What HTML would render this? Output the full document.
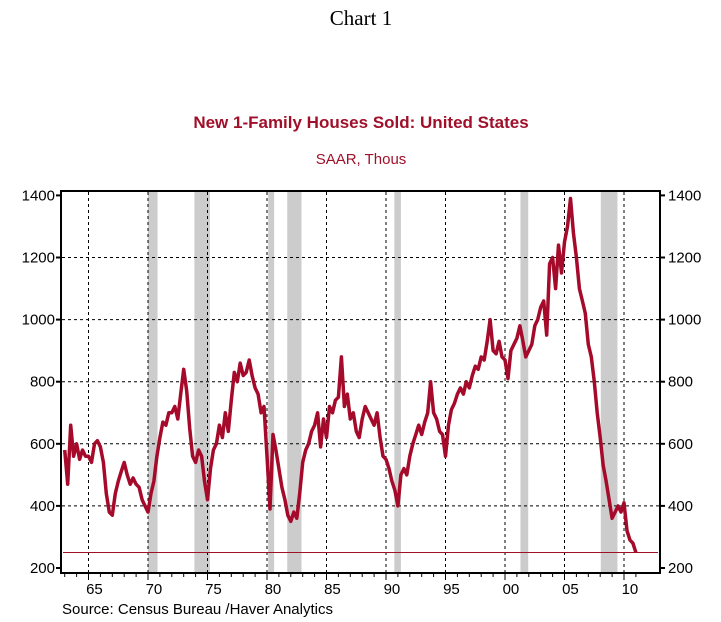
<!DOCTYPE html>
<html><head><meta charset="utf-8"><style>
html,body{margin:0;padding:0;background:#fff;}
svg{display:block;font-family:"Liberation Sans",Arial,sans-serif;}
</style></head><body>
<svg id="chart" width="721" height="622" viewBox="0 0 721 622" xmlns="http://www.w3.org/2000/svg">
<text x="361" y="25" text-anchor="middle" font-family="Liberation Serif, serif" font-size="21">Chart 1</text>
<text x="361" y="128" text-anchor="middle" font-size="17" font-weight="bold" fill="#a0102a">New 1-Family Houses Sold: United States</text>
<text x="361" y="164" text-anchor="middle" font-size="15" fill="#a0102a">SAAR, Thous</text>
<g id="shade"></g>
<g id="grid"></g>
<g id="axes"></g>
<g id="series"></g>
<rect x="61" y="191" width="599" height="382" fill="none" stroke="#000" stroke-width="2"/>
<text x="62" y="614" font-size="15">Source:  Census Bureau /Haver Analytics</text>
</svg>
<script>
const startYear = 1963;
const stepYears = 0.25;
const sales = [
580,470,660,560, 600,550,580,560, 560,540,600,610, 590,540,440,380,
370,440,480,510, 540,500,470,490, 470,460,420,400, 380,440,480,560,
620,670,660,700, 700,720,680,760, 840,770,650,560, 540,580,560,480,
420,520,580,600, 660,620,700,640, 740,830,800,860, 820,830,870,820,
780,760,700,720, 560,390,630,580, 520,460,420,370, 350,380,360,440,
540,580,600,640, 660,700,590,680, 620,720,700,740, 750,880,720,760,
680,700,640,620, 680,720,700,680, 660,700,620,560, 550,520,480,450,
400,500,520,500, 560,600,630,660, 630,670,700,800, 700,680,640,630,
560,660,710,730, 760,780,760,800, 780,820,850,840, 880,870,930,1000,
900,890,930,880, 870,810,900,920, 940,980,930,880, 900,920,980,1000,
1040,1060,950,1180, 1200,1100,1240,1150, 1250,1300,1390,1280, 1200,1100,1060,1020,
920,880,800,700, 620,530,480,420, 360,380,400,380, 410,320,290,280, 250
];
const recessions = [[1970.0,1970.8],[1973.9,1975.2],[1980.1,1980.6],[1981.7,1982.9],[1990.7,1991.25],[2001.3,2001.95],[2008.05,2009.45]];
const yTicks = [200,400,600,800,1000,1200,1400];
const xLabels = ["65","70","75","80","85","90","95","00","05","10"];
const xLabelYears = [1965,1970,1975,1980,1985,1990,1995,2000,2005,2010];
const refValue = 250;

const NS="http://www.w3.org/2000/svg";
const X = t => 88.5 + (t-1965)*11.9;
const Y = v => 568 - (v-200)*62.1/200;
function mk(tag, attrs, parent){const e=document.createElementNS(NS,tag);for(const k in attrs)e.setAttribute(k,attrs[k]);parent.appendChild(e);return e;}
const shade=document.getElementById('shade'), grid=document.getElementById('grid'), axes=document.getElementById('axes'), series=document.getElementById('series');

recessions.forEach(r=>{
  const e=mk('rect',{x:X(r[0]),y:192,width:X(r[1])-X(r[0]),height:380,fill:'#cccccc'},shade);
  
  
});
yTicks.forEach(v=>{
  const y=Y(v);
  if(v>200&&v<1400){
    const g=mk('line',{x1:62,x2:659,y1:y,y2:y,stroke:'#000','stroke-width':1,'stroke-dasharray':'3,3'},grid);
    
    
  }
  const t1=mk('line',{x1:56,x2:61,y1:y,y2:y,stroke:'#000','stroke-width':2},axes);
  
  
  const t2=mk('line',{x1:660,x2:665,y1:y,y2:y,stroke:'#000','stroke-width':2},axes);
  
  
  const l=mk('text',{x:55,y:y+5,'text-anchor':'end','font-size':15},axes);
  l.textContent=v;
  
  
  const r=mk('text',{x:668,y:y+5,'font-size':15},axes);
  r.textContent=v;
  
  
});
xLabelYears.forEach((yr,i)=>{
  const x=X(yr);
  const g=mk('line',{x1:x,x2:x,y1:192,y2:572,stroke:'#000','stroke-width':1,'stroke-dasharray':'3,3'},grid);
  
  
  const l=mk('text',{x:X(yr+0.5),y:594,'text-anchor':'middle','font-size':15},axes);
  l.textContent=xLabels[i];
  
  
});
for(let yr=1963; yr<=2011; yr++){
  const x=X(yr);
  const t=mk('line',{x1:x,x2:x,y1:574,y2:yr%5===0?580:577,stroke:'#000','stroke-width':1},axes);
  
  
}
const ref=mk('line',{x1:63,x2:658,y1:Y(refValue),y2:Y(refValue),stroke:'#a0102a','stroke-width':1},series);


const pts=sales.map((v,i)=>X(startYear+i*stepYears).toFixed(1)+','+Y(v).toFixed(1)).join(' ');
const pl=mk('polyline',{points:pts,fill:'none',stroke:'#a50a2a','stroke-width':3.5,'stroke-linejoin':'round'},series);


</script>
</body></html>
